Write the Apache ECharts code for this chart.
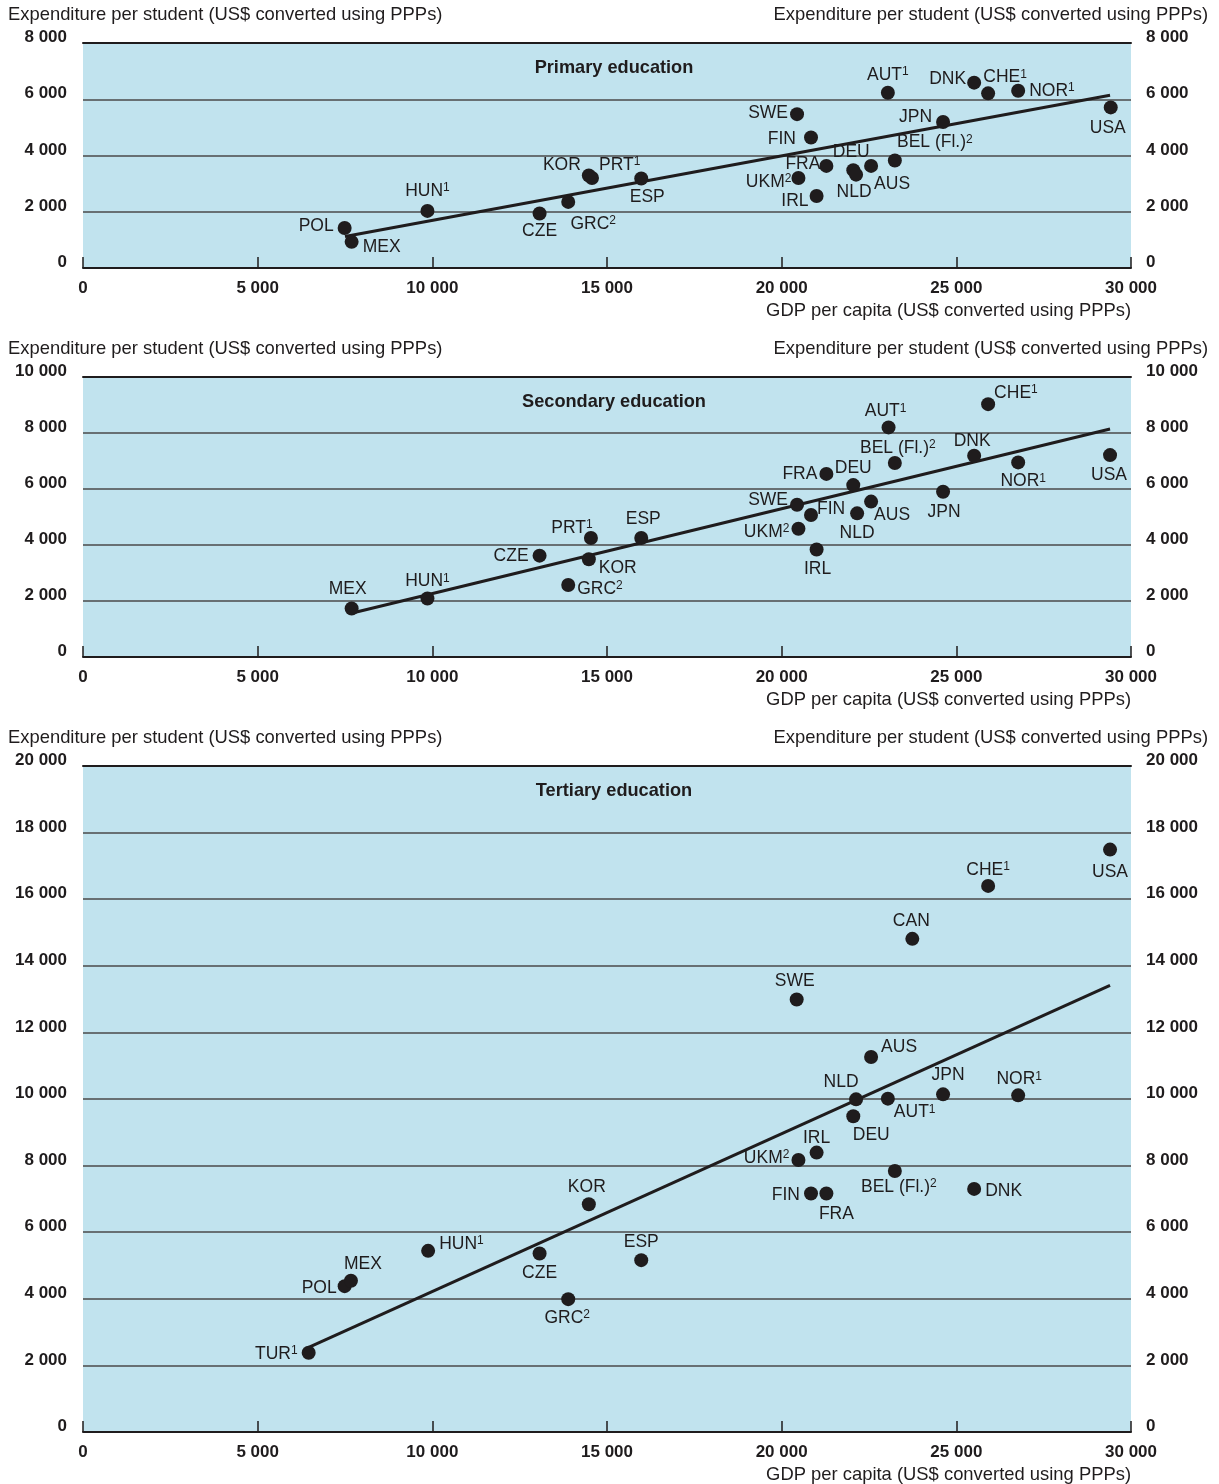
<!DOCTYPE html>
<html>
<head>
<meta charset="utf-8">
<script src="https://cdn.jsdelivr.net/npm/echarts@6/dist/echarts.min.js"></script>
<style>
  html, body { margin: 0; padding: 0; background: #ffffff; }
  #chart { width: 1219px; height: 1484px; }
</style>
</head>
<body>
<div id="chart"></div>
<script>
// Footnote markers attached to country codes
const footnotes = { 'HUN': '1', 'PRT': '1', 'AUT': '1', 'CHE': '1', 'NOR': '1', 'TUR': '1',
                    'GRC': '2', 'UKM': '2', 'BEL (Fl.)': '2' };

// Primary education
const primaryCountries = ['POL','MEX','HUN','CZE','GRC','KOR','PRT','ESP','SWE','FIN','UKM','IRL',
                          'FRA','DEU','NLD','AUS','BEL (Fl.)','AUT','JPN','DNK','CHE','NOR','USA'];
const primaryGdp   = [7490, 7690, 9860, 13070, 13890, 14480, 14570, 15980, 20440, 20840, 20480, 21000,
                      21280, 22050, 22130, 22560, 23240, 23040, 24620, 25510, 25910, 26770, 29420];
const primarySpend = [1420, 930, 2030, 1940, 2350, 3290, 3200, 3180, 5470, 4640, 3200, 2560,
                      3630, 3480, 3320, 3630, 3820, 6230, 5190, 6590, 6210, 6300, 5710];
const primaryTrendGdp   = [7500, 29400];
const primaryTrendSpend = [1120, 6140];

// Secondary education
const secondaryCountries = ['MEX','HUN','CZE','PRT','KOR','GRC','ESP','SWE','FIN','UKM','IRL','FRA',
                            'DEU','NLD','AUS','BEL (Fl.)','AUT','JPN','DNK','CHE','NOR','USA'];
const secondaryGdp   = [7690, 9860, 13070, 14540, 14480, 13890, 15980, 20440, 20840, 20480, 21000, 21280,
                        22050, 22160, 22560, 23240, 23060, 24620, 25510, 25910, 26770, 29400];
const secondarySpend = [1730, 2090, 3620, 4250, 3490, 2570, 4250, 5440, 5070, 4580, 3840, 6540,
                        6140, 5130, 5550, 6930, 8200, 5900, 7190, 9030, 6950, 7210];
const secondaryTrendGdp   = [7710, 29400];
const secondaryTrendSpend = [1570, 8140];

// Tertiary education
const tertiaryCountries = ['TUR','POL','MEX','HUN','CZE','GRC','KOR','ESP','SWE','UKM','FIN','IRL',
                           'FRA','DEU','NLD','AUS','AUT','BEL (Fl.)','CAN','JPN','DNK','CHE','NOR','USA'];
const tertiaryGdp   = [6460, 7490, 7670, 9880, 13070, 13890, 14480, 15980, 20430, 20480, 20840, 21000,
                       21280, 22050, 22130, 22560, 23040, 23240, 23740, 24620, 25510, 25910, 26770, 29400];
const tertiarySpend = [2380, 4380, 4540, 5440, 5360, 3990, 6840, 5160, 12990, 8170, 7160, 8390,
                       7160, 9480, 9990, 11260, 10010, 7840, 14810, 10140, 7300, 16400, 10110, 17490];
const tertiaryTrendGdp   = [6460, 29400];
const tertiaryTrendSpend = [2540, 13410];

// Axis ranges
const gdpRange = { min: 0, max: 30000, interval: 5000 };
const primaryRange   = { min: 0, max: 8000,  interval: 2000 };
const secondaryRange = { min: 0, max: 10000, interval: 2000 };
const tertiaryRange  = { min: 0, max: 20000, interval: 2000 };

// Label placement per country: [side, dx, dy]
const primaryLabels = {
  'POL': ['left',0,-2], 'MEX': ['right',0,5], 'HUN': ['top',0,0], 'CZE': ['bottom',0,-2],
  'GRC': ['bottom',25,2], 'KOR': ['left',3,-10], 'PRT': ['right',-4,-13], 'ESP': ['bottom',6,-1],
  'SWE': ['left',2,-1], 'FIN': ['left',-4,2], 'UKM': ['left',4,4], 'IRL': ['left',3,5],
  'FRA': ['left',5,-2], 'DEU': ['top',-2,2], 'NLD': ['bottom',-2,-2], 'AUS': ['bottom',21,-2],
  'BEL (Fl.)': ['top',40,2], 'AUT': ['top',0,2], 'JPN': ['left',0,-5], 'DNK': ['left',3,-3],
  'CHE': ['top',17,4], 'NOR': ['right',0,0], 'USA': ['bottom',-3,1]
};
const secondaryLabels = {
  'MEX': ['top',-4,1], 'HUN': ['top',0,3], 'CZE': ['left',0,1], 'PRT': ['top',-19,10],
  'KOR': ['right',-1,9], 'GRC': ['right',-2,4], 'ESP': ['top',2,1], 'SWE': ['left',2,-5],
  'FIN': ['right',-5,-6], 'UKM': ['left',2,3], 'IRL': ['bottom',1,0], 'FRA': ['left',2,0],
  'DEU': ['top',0,3], 'NLD': ['bottom',0,0], 'AUS': ['bottom',21,-6], 'BEL (Fl.)': ['top',3,5],
  'AUT': ['top',-3,4], 'JPN': ['bottom',1,0], 'DNK': ['top',-2,5], 'CHE': ['right',-5,-11],
  'NOR': ['bottom',5,-1], 'USA': ['bottom',-1,0]
};
const tertiaryLabels = {
  'USA': ['bottom',0,3], 'CHE': ['top',0,4], 'CAN': ['top',-1,2], 'SWE': ['top',-2,2],
  'AUS': ['right',-1,-10], 'NLD': ['top',-15,3], 'AUT': ['right',-5,14], 'JPN': ['top',5,1],
  'NOR': ['top',1,4], 'DEU': ['bottom',18,-1], 'IRL': ['top',0,6], 'UKM': ['left',2,-2],
  'BEL (Fl.)': ['bottom',4,-4], 'FIN': ['left',0,2], 'FRA': ['bottom',10,1], 'DNK': ['right',0,2],
  'ESP': ['top',0,2], 'KOR': ['top',-2,3], 'HUN': ['right',0,-7], 'CZE': ['bottom',0,0],
  'GRC': ['bottom',-1,-1], 'MEX': ['top',12,3], 'POL': ['left',3,2], 'TUR': ['left',0,1]
};

const INK = '#1f1c1d';
const PLOT_BG = '#c1e3ee';
const GRID_LINE = '#4a4a4a';
const TEXT_FONT = "'Liberation Sans', Arial, Helvetica, sans-serif";
const TICK_FONT = "'Liberation Sans', Arial, Helvetica, sans-serif";

const panels = [
  { title: 'Primary education', top: 43, height: 225, range: primaryRange,
    countries: primaryCountries, gdp: primaryGdp, spend: primarySpend,
    trendGdp: primaryTrendGdp, trendSpend: primaryTrendSpend, labels: primaryLabels },
  { title: 'Secondary education', top: 377, height: 280, range: secondaryRange,
    countries: secondaryCountries, gdp: secondaryGdp, spend: secondarySpend,
    trendGdp: secondaryTrendGdp, trendSpend: secondaryTrendSpend, labels: secondaryLabels },
  { title: 'Tertiary education', top: 766, height: 666, range: tertiaryRange,
    countries: tertiaryCountries, gdp: tertiaryGdp, spend: tertiarySpend,
    trendGdp: tertiaryTrendGdp, trendSpend: tertiaryTrendSpend, labels: tertiaryLabels }
];

const PLOT_LEFT = 83, PLOT_RIGHT = 1131;

function thousands(v) {
  return String(v).replace(/\B(?=(\d{3})+(?!\d))/g, ' ');
}

const grid = [], xAxis = [], yAxis = [], series = [], graphic = [];

panels.forEach((p, i) => {
  grid.push({
    left: PLOT_LEFT, width: PLOT_RIGHT - PLOT_LEFT, top: p.top, height: p.height,
    show: true, backgroundColor: PLOT_BG, borderWidth: 0
  });

  // bottom GDP axis
  xAxis.push({
    type: 'value', gridIndex: i, position: 'bottom',
    min: gdpRange.min, max: gdpRange.max, interval: gdpRange.interval,
    axisLine: { show: true, onZero: false, lineStyle: { color: INK, width: 2 } },
    axisTick: { show: true, inside: true, length: 11, lineStyle: { color: INK, width: 1.5 } },
    axisLabel: { show: true, margin: 12, color: INK, fontFamily: TICK_FONT, fontWeight: 'bold',
                 fontSize: 17, formatter: thousands },
    splitLine: { show: false }
  });
  // top frame line
  xAxis.push({
    type: 'value', gridIndex: i, position: 'top',
    min: gdpRange.min, max: gdpRange.max, interval: gdpRange.interval,
    axisLine: { show: true, onZero: false, lineStyle: { color: INK, width: 2 } },
    axisTick: { show: false }, axisLabel: { show: false }, splitLine: { show: false }
  });

  // value labels sit slightly above their grid lines
  const yLabel = { color: INK, fontFamily: TICK_FONT, fontWeight: 'bold', fontSize: 17,
                   formatter: thousands, verticalAlign: 'bottom', lineHeight: 11 };
  yAxis.push({
    type: 'value', gridIndex: i, position: 'left',
    min: p.range.min, max: p.range.max, interval: p.range.interval,
    axisLine: { show: false }, axisTick: { show: false },
    axisLabel: Object.assign({ margin: 16 }, yLabel),
    splitLine: { show: true, lineStyle: { color: GRID_LINE, width: 1.5 } }
  });
  yAxis.push({
    type: 'value', gridIndex: i, position: 'right',
    min: p.range.min, max: p.range.max, interval: p.range.interval,
    axisLine: { show: false }, axisTick: { show: false },
    axisLabel: Object.assign({ margin: 15 }, yLabel),
    splitLine: { show: false }
  });

  // regression line
  series.push({
    type: 'line', xAxisIndex: i * 2, yAxisIndex: i * 2,
    data: p.trendGdp.map((g, k) => [g, p.trendSpend[k]]),
    symbol: 'none', silent: true, z: 3,
    lineStyle: { color: INK, width: 3 }
  });

  // countries
  series.push({
    type: 'scatter', xAxisIndex: i * 2, yAxisIndex: i * 2,
    symbol: 'circle', symbolSize: 14, z: 4,
    itemStyle: { color: INK, opacity: 1 },
    data: p.countries.map((c, k) => {
      const pl = p.labels[c] || ['top', 0, 0];
      return { name: c, value: [p.gdp[k], p.spend[k]],
               label: { position: pl[0], offset: [pl[1], pl[2]] } };
    }),
    label: {
      show: true, distance: 4,
      formatter: (d) => footnotes[d.name] ? '{n|' + d.name + '}{s|' + footnotes[d.name] + '}' : '{n|' + d.name + '}',
      rich: {
        n: { fontFamily: TEXT_FONT, fontSize: 17.5, color: INK, lineHeight: 18 },
        s: { fontFamily: TEXT_FONT, fontSize: 12, color: INK, lineHeight: 10, verticalAlign: 'top' }
      }
    }
  });

  // panel texts
  const axisTitle = 'Expenditure per student (US$ converted using PPPs)';
  const nameY = p.top - 28;
  graphic.push({ type: 'text', x: 8, y: nameY,
    style: { text: axisTitle, font: '18.4px ' + TEXT_FONT, fill: INK, textAlign: 'left', textVerticalAlign: 'middle' } });
  graphic.push({ type: 'text', x: 1208, y: nameY,
    style: { text: axisTitle, font: '18.4px ' + TEXT_FONT, fill: INK, textAlign: 'right', textVerticalAlign: 'middle' } });
  graphic.push({ type: 'text', x: 614, y: p.top + 25,
    style: { text: p.title, font: 'bold 18.2px ' + TEXT_FONT, fill: INK, textAlign: 'center', textVerticalAlign: 'middle' } });
  graphic.push({ type: 'text', x: PLOT_RIGHT, y: p.top + p.height + 43,
    style: { text: 'GDP per capita (US$ converted using PPPs)', font: '18.4px ' + TEXT_FONT, fill: INK,
             textAlign: 'right', textVerticalAlign: 'middle' } });
});

const chart = echarts.init(document.getElementById('chart'), null, { renderer: 'canvas' });
chart.setOption({
  animation: false,
  backgroundColor: '#ffffff',
  grid, xAxis, yAxis, series, graphic
});
</script>
</body>
</html>
